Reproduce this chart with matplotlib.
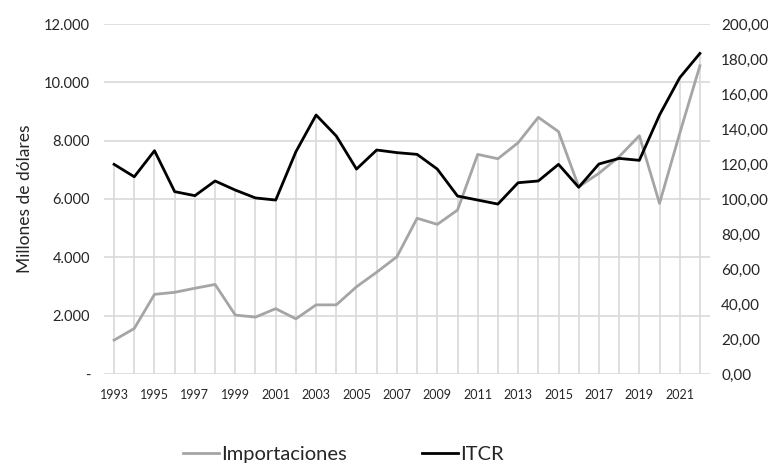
import matplotlib
matplotlib.use("Agg")
import matplotlib.pyplot as plt
from matplotlib.ticker import FuncFormatter, FixedLocator
from matplotlib.lines import Line2D

plt.rcParams['font.family'] = ['Lato', 'DejaVu Sans']

years = list(range(1993, 2023))
importaciones = [1160, 1560, 2730, 2800, 2940, 3070, 2020, 1950, 2240, 1890,
                 2370, 2370, 2990, 3490, 4020, 5340, 5130, 5620, 7530, 7380,
                 7930, 8800, 8310, 6420, 6880, 7450, 8170, 5850, 8250, 10570]
itcr = [119.8, 112.7, 127.6, 104.2, 101.9, 110.3, 105.1, 100.6, 99.4, 127.0,
        148.0, 136.0, 117.1, 128.0, 126.5, 125.5, 117.1, 101.7, 99.4, 97.1,
        109.3, 110.3, 119.8, 106.7, 120.0, 123.2, 122.1, 148.0, 169.3, 183.2]

left_ticks = [0, 2000, 4000, 6000, 8000, 10000, 12000]
right_ticks = [0, 20, 40, 60, 80, 100, 120, 140, 160, 180, 200]
xtick_labels = [y for y in years if (y - 1993) % 2 == 0]

fig = plt.figure(figsize=(7.68, 4.69), dpi=100)
ax = fig.add_axes([0.1354, 0.2026, 0.7891, 0.7462])
ax2 = ax.twinx()

ax.set_xlim(1992.5, 2022.5)
ax.set_ylim(0, 12000)
ax2.set_ylim(0, 200)

grid_c = '#D9D9D9'
for t in left_ticks:
    ax.axhline(t, color=grid_c, lw=1.2, zorder=0)

# drop lines to the highest point of either series
for y, imp, it in zip(years, importaciones, itcr):
    top = max(imp, it * 60)
    ax.vlines(y, 0, top, color=grid_c, lw=1.2, zorder=1)

ax.plot(years, importaciones, color='#A5A5A5', lw=2.0, zorder=3)
ax2.plot(years, itcr, color='#000000', lw=2.0, zorder=4)
ax.set_zorder(ax2.get_zorder() - 1)
ax.patch.set_visible(True)
ax2.patch.set_visible(False)

def lfmt(v, p):
    if v == 0:
        return '-'
    return f'{int(v):,}'.replace(',', '.')

def rfmt(v, p):
    return f'{v:.2f}'.replace('.', ',')

ax.yaxis.set_major_locator(FixedLocator(left_ticks))
ax.yaxis.set_major_formatter(FuncFormatter(lfmt))
ax2.yaxis.set_major_locator(FixedLocator(right_ticks))
ax2.yaxis.set_major_formatter(FuncFormatter(rfmt))
ax.set_xticks(xtick_labels)
ax.set_xticklabels([str(y) for y in xtick_labels])

for a in (ax, ax2):
    for s in a.spines.values():
        s.set_visible(False)
    a.tick_params(length=0)

ax.tick_params(axis='y', labelsize=10.5, colors='#262626', pad=10)
ax2.tick_params(axis='y', labelsize=11, colors='#262626', pad=8)
ax.tick_params(axis='x', labelsize=9, colors='#262626', pad=11)

ax.set_ylabel('Millones de dólares', fontsize=12.5, color='#262626', labelpad=8)

handles = [Line2D([], [], color='#A5A5A5', lw=2.0),
           Line2D([], [], color='#000000', lw=2.0)]
fig.legend(handles, ['Importaciones', 'ITCR'], loc='center', bbox_to_anchor=(0.447, 0.03),
           ncol=2, frameon=False, fontsize=14.5, handlelength=1.8, handletextpad=0.1,
           columnspacing=3.7, labelcolor='#262626')

fig.savefig('out.png', dpi=100)
